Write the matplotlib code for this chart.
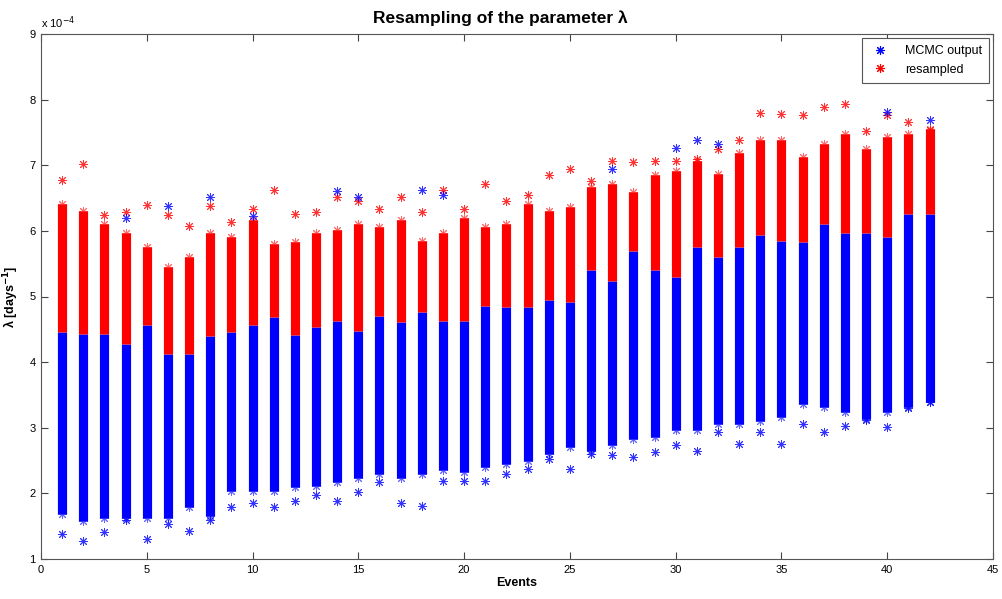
import numpy as np
import matplotlib
matplotlib.use('Agg')
import matplotlib.pyplot as plt
from matplotlib.lines import Line2D

plt.rcParams['font.family'] = ['Liberation Sans', 'DejaVu Sans']
plt.rcParams['mathtext.fontset'] = 'dejavusans'

# values in units of 1e-4 days^-1
events = np.arange(1, 43)

# lower edge of the dense MCMC column
blue_low = [1.69, 1.58, 1.63, 1.63, 1.63, 1.63, 1.79, 1.66, 2.04, 2.04,
            2.04, 2.09, 2.12, 2.17, 2.24, 2.29, 2.24, 2.29, 2.35, 2.32,
            2.40, 2.45, 2.50, 2.60, 2.70, 2.65, 2.73, 2.83, 2.86, 2.96,
            2.96, 3.06, 3.06, 3.11, 3.16, 3.36, 3.31, 3.24, 3.14, 3.24,
            3.31, 3.39]
# where the resampled points start covering the column
split = [4.46, 4.43, 4.43, 4.28, 4.56, 4.13, 4.13, 4.40, 4.46, 4.56,
         4.69, 4.41, 4.53, 4.63, 4.48, 4.71, 4.61, 4.76, 4.63, 4.63,
         4.86, 4.84, 4.84, 4.94, 4.91, 5.40, 5.24, 5.70, 5.40, 5.30,
         5.75, 5.60, 5.75, 5.93, 5.85, 5.83, 6.11, 5.96, 5.96, 5.91,
         6.26, 6.26]
# upper edge of the dense resampled column
red_top = [6.41, 6.31, 6.11, 5.96, 5.75, 5.45, 5.60, 5.96, 5.91, 6.16,
           5.80, 5.83, 5.96, 6.01, 6.11, 6.06, 6.16, 5.85, 5.96, 6.19,
           6.06, 6.11, 6.41, 6.31, 6.36, 6.67, 6.72, 6.59, 6.85, 6.92,
           7.07, 6.87, 7.18, 7.38, 7.38, 7.13, 7.33, 7.48, 7.25, 7.43,
           7.48, 7.56]
# largest resampled value per event
red_max = [6.77, 7.02, 6.24, 6.29, 6.39, 6.24, 6.08, 6.38, 6.14, 6.34,
           6.62, 6.26, 6.29, 6.51, 6.46, 6.34, 6.52, 6.29, 6.63, 6.34,
           6.71, 6.46, 6.54, 6.85, 6.94, 6.76, 7.06, 7.05, 7.06, 7.06,
           7.10, 7.25, 7.38, 7.79, 7.78, 7.76, 7.89, 7.94, 7.52, 7.76,
           7.66, 7.53]
# smallest MCMC value per event
blue_min = [1.38, 1.28, 1.41, 1.60, 1.30, 1.53, 1.43, 1.60, 1.79, 1.86,
            1.79, 1.89, 1.97, 1.89, 2.02, 2.17, 1.86, 1.81, 2.19, 2.19,
            2.19, 2.29, 2.37, 2.52, 2.37, 2.60, 2.58, 2.55, 2.63, 2.73,
            2.65, 2.93, 2.75, 2.93, 2.75, 3.06, 2.93, 3.03, 3.12, 3.01,
            3.30, 3.39]
# MCMC values sticking out above the resampled column
blue_hi_ev = [4, 6, 8, 10, 14, 15, 18, 19, 27, 30, 31, 32, 40, 42]
blue_hi = [6.19, 6.38, 6.52, 6.22, 6.61, 6.52, 6.62, 6.55, 6.94, 7.27,
           7.38, 7.32, 7.81, 7.69]

sc = 1e-4
blue_low = np.array(blue_low) * sc
split = np.array(split) * sc
red_top = np.array(red_top) * sc
red_max = np.array(red_max) * sc
blue_min = np.array(blue_min) * sc
blue_hi = np.array(blue_hi) * sc

BLUE = '#0000ff'
RED = '#ff0000'
STAR = (8, 2, 0)   # 8-spoke asterisk, like MATLAB's '*'

fig = plt.figure(figsize=(10.02, 5.99), dpi=100)
ax = fig.add_axes([41 / 1002, 40 / 599, 952 / 1002, 525 / 599])

col_w = 6.6
ax.vlines(events, blue_low, split, colors=BLUE, lw=col_w)
ax.vlines(events, split, red_top, colors=RED, lw=col_w)


def stars(x, y, c, a=0.8):
    ax.plot(x, y, ls='none', marker=STAR, ms=6.5, mec=c, mfc=c, mew=0.7,
            alpha=a)


stars(events, blue_low, BLUE, 0.6)
stars(events, blue_min, BLUE)
stars(events, red_top, RED, 0.6)
stars(events, red_max, RED)
stars(blue_hi_ev, blue_hi, BLUE)

ax.set_xlim(0, 45)
ax.set_ylim(1e-4, 9e-4)
ax.set_xticks(np.arange(0, 46, 5))
ax.set_yticks(np.arange(1, 10) * sc)
ax.set_yticklabels([str(v) for v in range(1, 10)])
ax.tick_params(direction='in', top=True, right=True, labelsize=8,
               length=5, width=0.8, color='#444444', pad=4)
for s in ax.spines.values():
    s.set_color('#555555')
    s.set_linewidth(0.8)

ax.text(0, 1.005, r'x 10$^{-4}$', transform=ax.transAxes, fontsize=8,
        ha='left', va='bottom')

ax.set_title('Resampling of the parameter λ', fontsize=12.5,
             fontweight='bold', pad=8, x=0.482)
ax.set_xlabel('Events', fontsize=9, fontweight='bold', labelpad=2)
ax.set_ylabel(r'λ [days$^{\mathbf{-1}}$]', fontsize=9,
              fontweight='bold', labelpad=6)

handles = [Line2D([], [], ls='none', marker=STAR, color=BLUE, mew=0.8, ms=6.5),
           Line2D([], [], ls='none', marker=STAR, color=RED, mew=0.8, ms=6.5)]
leg = ax.legend(handles, ['MCMC output', 'resampled'], loc='upper right',
                fontsize=9, fancybox=False, framealpha=1,
                edgecolor='#555555', borderaxespad=0.3, handletextpad=1.2,
                handlelength=1.6, borderpad=0.6, labelspacing=0.5)
leg.get_frame().set_linewidth(0.8)

fig.savefig('out.png', dpi=100)
